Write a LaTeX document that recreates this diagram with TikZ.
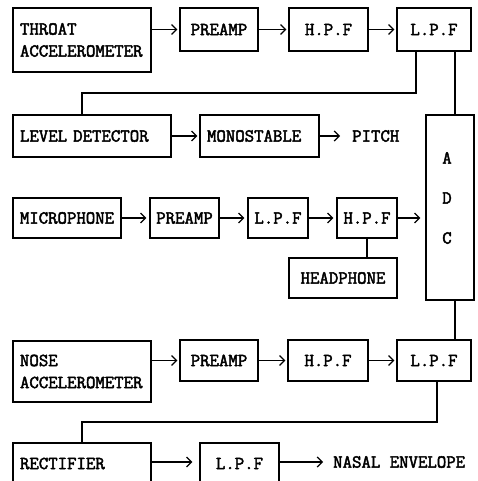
\documentclass[tikz,border=0pt]{standalone}
\usepackage{fontspec}
\newfontfamily\tfont{Latin Modern Mono}[FakeBold=2.5]
\usetikzlibrary{arrows.meta}
\newcommand\lbx[6]{%
  \pgfmathsetmacro\tw{#4-#2-14}%
  \node[box,align=left,inner xsep=7pt,text width=\tw pt,minimum height={#5-#3}] (#1) at ({(#2+#4)/2},{(#3+#5)/2}) {#6};}
\newcommand\cbx[6]{%
  \node[box,minimum width={#4-#2},minimum height={#5-#3}] (#1) at ({(#2+#4)/2},{(#3+#5)/2}) {#6};}
\begin{document}
\begin{tikzpicture}[x=1pt,y=-1pt,
  txt/.style={font=\fontsize{18.3}{22}\tfont},
  box/.style={draw,line width=1.2pt,inner sep=0pt,txt},
  con/.style={line width=1.2pt},
  arr/.style={line width=1.2pt,-{Straight Barb[length=5pt,width=10pt,line width=1.2pt]},shorten >=2pt},
  lbl/.style={inner sep=0pt,txt}]
\useasboundingbox (0,0) rectangle (477,481);
\clip (0,0) rectangle (477,481);
% row 1
\lbx{throat}{13}{8}{151}{72}{THROAT\\ACCELEROMETER}
\cbx{pre1}{180}{8}{258}{51}{PREAMP}
\cbx{hpf1}{289}{8}{368}{51}{H.P.F}
\cbx{lpf1}{397}{8}{471}{51}{L.P.F}
% row 2
\lbx{level}{13}{115}{171}{157}{LEVEL DETECTOR}
\lbx{mono}{200}{115}{319}{157}{MONOSTABLE}
\node[lbl,anchor=west] (pitch) at (352,136) {PITCH};
\cbx{adc}{426}{115}{474}{300}{}
\node[lbl,align=center] (adctext) at (447,198) {A\\[18pt]D\\[18pt]C};
% row 3
\cbx{mic}{13}{198}{121}{238}{MICROPHONE}
\cbx{pre2}{150}{198}{219}{238}{PREAMP}
\cbx{lpf2}{248}{198}{308}{238}{L.P.F}
\cbx{hpf2}{337}{198}{397}{238}{H.P.F}
\cbx{head}{289}{258}{397}{298}{HEADPHONE}
% row 4
\lbx{nose}{13}{341}{151}{402}{NOSE\\ACCELEROMETER}
\cbx{pre3}{180}{340}{258}{381}{PREAMP}
\cbx{hpf3}{288}{340}{368}{381}{H.P.F}
\cbx{lpf3}{397}{340}{471}{381}{L.P.F}
% row 5
\lbx{rect}{13}{443}{151}{484}{RECTIFIER}
\cbx{lpf4}{200}{443}{279}{484}{L.P.F}
\node[lbl,anchor=west] (nasal) at (333,462) {NASAL ENVELOPE};
% junctions
\coordinate (j1) at (416,93);
\coordinate (j2) at (82,93);
\coordinate (j3) at (455,0);
\coordinate (j5) at (437,422);
\coordinate (j6) at (82,422);
% arrows
\draw[arr] (throat.east |- pre1.west) -- (pre1.west);
\draw[arr] (pre1.east) -- (hpf1.west);
\draw[arr] (hpf1.east) -- (lpf1.west);
\draw[arr] (level.east) -- (mono.west);
\draw[arr,shorten >=12pt] (mono.east) -- (pitch.west);
\draw[arr,shorten >=3pt] (mic.east) -- (pre2.west);
\draw[arr,shorten >=3pt] (pre2.east) -- (lpf2.west);
\draw[arr,shorten >=3pt] (lpf2.east) -- (hpf2.west);
\draw[arr,shorten >=5pt] (hpf2.east) -- (hpf2.east -| adc.west);
\draw[arr] (nose.east |- pre3.west) -- (pre3.west);
\draw[arr] (pre3.east) -- (hpf3.west);
\draw[arr] (hpf3.east) -- (lpf3.west);
\draw[arr,shorten >=7pt] (rect.east |- 0,462) -- (lpf4.west |- 0,462);
\draw[arr,shorten >=10pt] (lpf4.east |- nasal.west) -- (nasal.west);
% connectors
\draw[con] (lpf1.south -| j1) |- (j2) -- (level.north -| j2);
\draw[con] (lpf1.south -| j3) -- (adc.north -| j3);
\draw[con] (adc.south -| j3) -- (lpf3.north -| j3);
\draw[con] (hpf2.south) -- (hpf2.south |- head.north);
\draw[con] (lpf3.south -| j5) |- (j6) -- (rect.north -| j6);
\end{tikzpicture}
\end{document}
